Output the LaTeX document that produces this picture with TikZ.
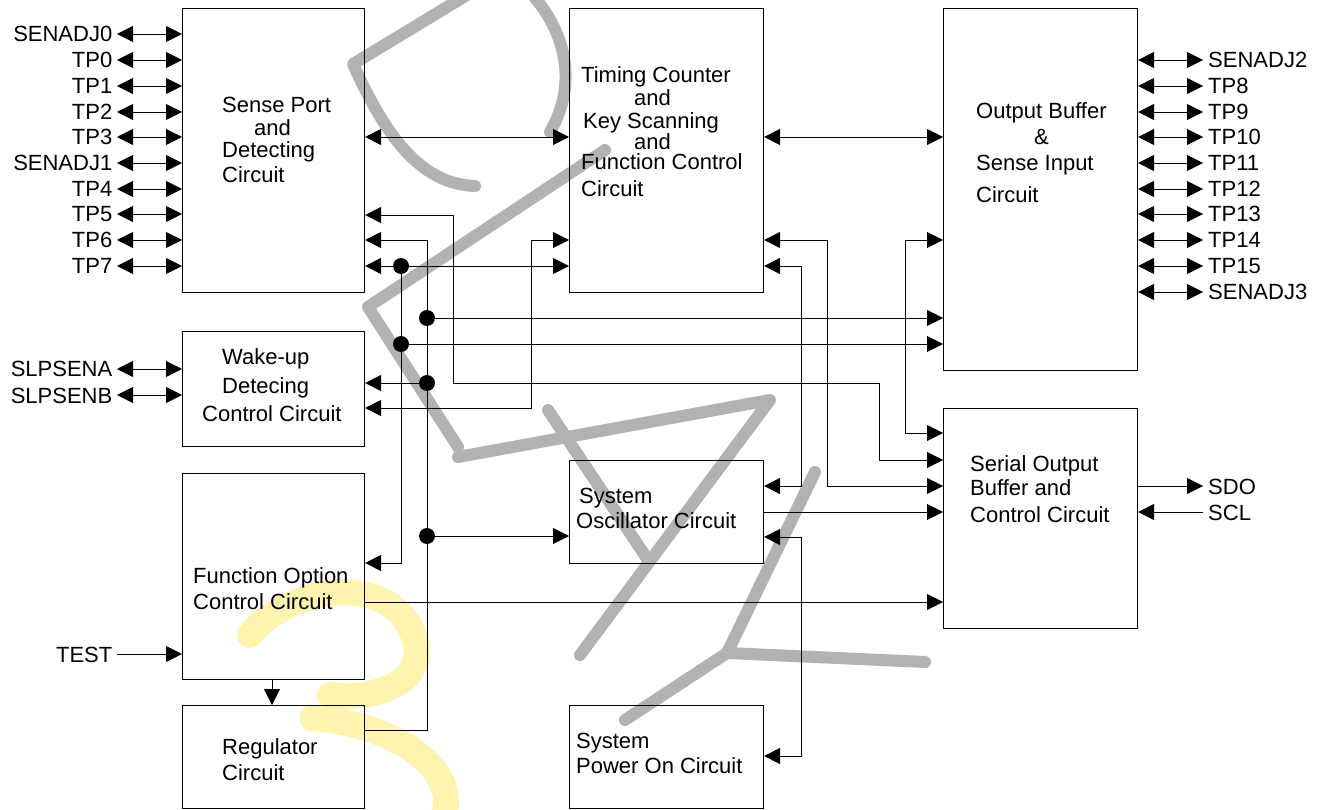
\documentclass[tikz,border=0pt]{standalone}
\usepackage{fontspec}
\setmainfont{Liberation Sans}
\usetikzlibrary{arrows.meta}
\definecolor{wmyellow}{RGB}{255,236,110}
\begin{document}
\begin{tikzpicture}[x=1pt,y=-1pt,
  font=\fontsize{22}{23}\selectfont,
  box/.style={draw, line width=1.1pt, rectangle, inner sep=0pt, anchor=north west},
  wire/.style={line width=0.9pt, line join=miter},
  to/.style={wire, -{Triangle[length=16pt,width=16pt]}},
  dbl/.style={wire, {Triangle[length=16pt,width=16pt]}-{Triangle[length=16pt,width=16pt]}},
  txt/.style={inner sep=0pt, anchor=base west},
  lpin/.style={inner sep=0pt, inner xsep=4.5pt, anchor=east, text height=16pt, text depth=0pt},
  rpin/.style={inner sep=0pt, inner xsep=5pt, anchor=west, text height=16pt, text depth=0pt},
  dot/.style={circle, fill, inner sep=0pt, minimum size=16pt},
  wm/.style={draw=black!30, line width=12pt, line cap=round, line join=round},
  wmy/.style={draw=wmyellow, draw opacity=0.55, line width=26pt, line cap=round, line join=round}
]
\fill[white] (0,0) rectangle (1326,810);
\useasboundingbox (0,0) rectangle (1326,810);

% ---------------- watermark (yellow brush)
\draw[wmy] (250,635) .. controls (290,585) and (395,570) .. (415,640)
              .. controls (428,690) and (360,700) .. (330,695);
\draw[wmy] (312,718) .. controls (400,725) and (455,770) .. (445,812);

% ---------------- watermark (grey strokes)
\draw[wm] (472,-8) -- (353,64) .. controls (385,135) and (420,184) .. (475,186);
\draw[wm] (535,-2) .. controls (562,30) and (580,80) .. (550,132);
\draw[wm] (605,150) -- (368,307) -- (458,447);
\draw[wm] (458,457) -- (770,400) -- (580,655);
\draw[wm] (548,410) -- (648,560);
\draw[wm] (815,472) -- (727,653) -- (625,720);
\draw[wm] (727,653) -- (925,662);

% ---------------- boxes
\node[box, minimum width=182pt, minimum height=284pt] (sense) at (182,8) {};
\node[box, minimum width=194pt, minimum height=284pt] (timing) at (569,8) {};
\node[box, minimum width=194pt, minimum height=362pt] (outbuf) at (943,8) {};
\node[box, minimum width=182pt, minimum height=115pt] (wake) at (182,331) {};
\node[box, minimum width=182pt, minimum height=206pt] (func) at (182,473) {};
\node[box, minimum width=182pt, minimum height=103pt] (reg) at (182,705) {};
\node[box, minimum width=194pt, minimum height=103pt] (osc) at (569,460) {};
\node[box, minimum width=194pt, minimum height=103pt] (pwr) at (569,705) {};
\node[box, minimum width=194pt, minimum height=220pt] (serial) at (943,408) {};

% ---------------- box texts
\node[txt] (s1) at (222,113) {Sense Port};
\node[txt] (s2) at (254,136) {and};
\node[txt] (s3) at (222,158) {Detecting};
\node[txt] (s4) at (222,183) {Circuit};

\node[txt] (t1) at (581,83) {Timing Counter};
\node[txt] (t2) at (634,106) {and};
\node[txt] (t3) at (583,129) {Key Scanning};
\node[txt] (t4) at (634,150) {and};
\node[txt] (t5) at (581,170) {Function Control};
\node[txt] (t6) at (581,197) {Circuit};

\node[txt] (o1) at (976,119) {Output Buffer};
\node[txt] (o2) at (1034,145) {\&};
\node[txt] (o3) at (976,171) {Sense Input};
\node[txt] (o4) at (976,203) {Circuit};

\node[txt] (w1) at (222,365) {Wake-up};
\node[txt] (w2) at (222,393) {Detecing};
\node[txt] (w3) at (202,421) {Control Circuit};

\node[txt] (f1) at (193,583) {Function Option};
\node[txt] (f2) at (193,609) {Control Circuit};

\node[txt] (r1) at (222,754) {Regulator};
\node[txt] (r2) at (222,780) {Circuit};

\node[txt] (c1) at (579,503) {System};
\node[txt] (c2) at (576,528) {Oscillator Circuit};

\node[txt] (p1) at (576,748) {System};
\node[txt] (p2) at (576,773) {Power On Circuit};

\node[txt] (e1) at (970,471) {Serial Output};
\node[txt] (e2) at (970,495) {Buffer and};
\node[txt] (e3) at (970,522) {Control Circuit};

% ---------------- left pins
\foreach \name/\lab/\yy in {la/SENADJ0/34, lb/TP0/60, lc/TP1/86, ld/TP2/112, le/TP3/137,
  lf/SENADJ1/163, lg/TP4/189, lh/TP5/214, li/TP6/240, lj/TP7/266}{
  \node[lpin] (\name) at (117,\yy) {\lab};
  \draw[dbl] (\name.east) -- (sense.west |- \name.east);
}
\node[lpin] (slpa) at (117,369) {SLPSENA};
\draw[dbl] (slpa.east) -- (wake.west |- slpa.east);
\node[lpin] (slpb) at (117,395) {SLPSENB};
\draw[dbl] (slpb.east) -- (wake.west |- slpb.east);
\node[lpin] (test) at (117,654) {TEST};
\draw[to] (test.east) -- (func.west |- test.east);

% ---------------- right pins
\foreach \name/\lab/\yy in {ra/SENADJ2/60, rb/TP8/86, rc/TP9/112, rd/TP10/137, re/TP11/163,
  rf/TP12/189, rg/TP13/214, rh/TP14/240, ri/TP15/266, rj/SENADJ3/292}{
  \node[rpin] (\name) at (1203,\yy) {\lab};
  \draw[dbl] (outbuf.east |- \name.west) -- (\name.west);
}
\node[rpin] (sdo) at (1203,486) {SDO};
\draw[to] (serial.east |- sdo.west) -- (sdo.west);
\node[rpin] (scl) at (1203,512) {SCL};
\draw[to] (scl.west) -- (serial.east |- scl.west);

% ---------------- junctions
\coordinate (j1) at (401,266);
\coordinate (j2) at (427,318);
\coordinate (j3) at (401,344);
\coordinate (j4) at (427,383);
\coordinate (j5) at (427,536);

% ---------------- internal connections
\draw[dbl] (sense.east |- 0,137) -- (timing.west |- 0,137);
\draw[dbl] (timing.east |- 0,137) -- (outbuf.west |- 0,137);

\draw[dbl] (sense.east |- 0,215) -- (453,215) -- (453,383) -- (879,383) -- (879,460) -- (serial.west |- 0,460);

\draw[to] (reg.east |- 0,730) -- (427,730) -- (427,240) -- (sense.east |- 0,240);
\draw[to] (j2) -- (outbuf.west |- j2);
\draw[to] (j4) -- (wake.east |- j4);
\draw[to] (j5) -- (osc.west |- j5);

\draw[dbl] (sense.east |- j1) -- (timing.west |- j1);
\draw[to] (j1) -- (401,563) -- (func.east |- 0,563);
\draw[to] (j3) -- (outbuf.west |- j3);

\draw[dbl] (wake.east |- 0,408) -- (531,408) -- (531,240) -- (timing.west |- 0,240);
\draw[dbl] (timing.east |- 0,240) -- (827,240) -- (827,486) -- (serial.west |- 0,486);
\draw[dbl] (timing.east |- 0,266) -- (801,266) -- (801,486) -- (osc.east |- 0,486);
\draw[dbl] (outbuf.west |- 0,240) -- (905,240) -- (905,433) -- (serial.west |- 0,433);
\draw[to] (osc.east |- 0,512) -- (serial.west |- 0,512);
\draw[dbl] (osc.east |- 0,537) -- (801,537) -- (801,756) -- (pwr.east |- 0,756);
\draw[to] (func.east |- 0,602) -- (serial.west |- 0,602);
\draw[to] (func.south -| 272,0) -- (reg.north -| 272,0);

\foreach \j in {j1,j2,j3,j4,j5} \node[dot] at (\j) {};
\end{tikzpicture}
\end{document}
